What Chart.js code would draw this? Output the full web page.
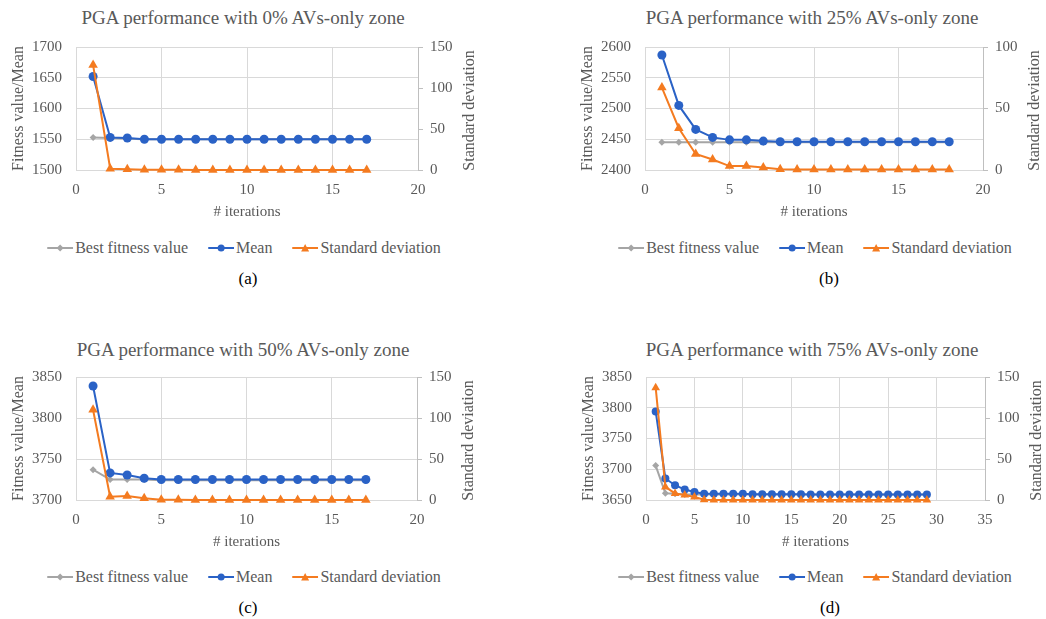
<!DOCTYPE html>
<html>
<head>
<meta charset="utf-8">
<script src="https://cdn.jsdelivr.net/npm/chart.js@4.4.1/dist/chart.umd.min.js"></script>
<style>
  body { margin: 0; background: #fff; }
  #page { position: relative; width: 1046px; height: 619px; overflow: hidden; font-family: "Liberation Serif", "Times New Roman", Times, "DejaVu Serif", serif; color: #595959; }
  canvas { position: absolute; }
  .title { position: absolute; font-size: 19px; white-space: nowrap; transform: translate(-50%, -50%); }
  .caption { position: absolute; font-size: 17px; color: #000; transform: translate(-50%, -50%); }
  .legend { position: absolute; display: flex; align-items: center; font-size: 16px; white-space: nowrap; transform: translate(-50%, -50%); }
  .legend .item { display: flex; align-items: center; margin: 0 10px; }
  .legend svg { margin-right: 2px; }
</style>
</head>
<body>
<div id="page">
  <div class="title" style="left:243px; top:18px">PGA performance with 0% AVs-only zone</div>
  <div class="title" style="left:812px; top:18px">PGA performance with 25% AVs-only zone</div>
  <div class="title" style="left:243px; top:350px">PGA performance with 50% AVs-only zone</div>
  <div class="title" style="left:812px; top:350px">PGA performance with 75% AVs-only zone</div>

  <canvas id="chartA" width="490" height="224" style="left:0px; top:0px"></canvas>
  <canvas id="chartB" width="477" height="224" style="left:569px; top:0px"></canvas>
  <canvas id="chartC" width="490" height="224" style="left:0px; top:330px"></canvas>
  <canvas id="chartD" width="476" height="224" style="left:570px; top:330px"></canvas>

  <div class="legend" style="left:244px; top:248px"></div>
  <div class="legend" style="left:815px; top:248px"></div>
  <div class="legend" style="left:244px; top:577px"></div>
  <div class="legend" style="left:815px; top:577px"></div>

  <div class="caption" style="left:248px; top:279px">(a)</div>
  <div class="caption" style="left:829px; top:279px">(b)</div>
  <div class="caption" style="left:248px; top:608px">(c)</div>
  <div class="caption" style="left:830px; top:608px">(d)</div>
</div>
<script>
// series labels
const seriesNames = ["Best fitness value", "Mean", "Standard deviation"];

// (a) 0% AVs-only zone
const iterA = [1, 2, 3, 4, 5, 6, 7, 8, 9, 10, 11, 12, 13, 14, 15, 16, 17];
const bestA = [1553, 1552, 1551, 1550, 1550, 1550, 1550, 1550, 1550, 1550, 1550, 1550, 1550, 1550, 1550, 1550, 1550];
const meanA = [1652, 1553, 1552, 1550, 1550, 1550, 1550, 1550, 1550, 1550, 1550, 1550, 1550, 1550, 1550, 1550, 1550];
const stdA = [128, 1.5, 0.8, 0.4, 0.3, 0.2, 0.1, 0, 0, 0, 0, 0, 0, 0, 0, 0, 0];

// (b) 25% AVs-only zone
const iterB = [1, 2, 3, 4, 5, 6, 7, 8, 9, 10, 11, 12, 13, 14, 15, 16, 17, 18];
const bestB = [2445, 2445, 2445, 2445, 2445, 2445, 2445, 2445, 2445, 2445, 2445, 2445, 2445, 2445, 2445, 2445, 2445, 2445];
const meanB = [2587, 2505, 2466, 2453, 2449, 2449, 2447, 2446, 2446, 2446, 2446, 2446, 2446, 2446, 2446, 2446, 2446, 2446];
const stdB = [67, 34, 13, 8.5, 3.2, 3.2, 2, 0.6, 0.5, 0.5, 0.5, 0.5, 0.5, 0.5, 0.5, 0.5, 0.5, 0.5];

// (c) 50% AVs-only zone
const iterC = [1, 2, 3, 4, 5, 6, 7, 8, 9, 10, 11, 12, 13, 14, 15, 16, 17];
const bestC = [3737, 3725, 3725, 3725, 3724, 3724, 3724, 3724, 3724, 3724, 3724, 3724, 3724, 3724, 3724, 3724, 3724];
const meanC = [3839, 3733, 3730.5, 3726.5, 3725, 3725, 3725, 3725, 3725, 3725, 3725, 3725, 3725, 3725, 3725, 3725, 3725];
const stdC = [110, 4, 5, 2, 0.3, 0.2, 0.1, 0, 0, 0, 0, 0, 0, 0, 0, 0, 0];

// (d) 75% AVs-only zone
const iterD = [1, 2, 3, 4, 5, 6, 7, 8, 9, 10, 11, 12, 13, 14, 15, 16, 17, 18, 19, 20, 21, 22, 23, 24, 25, 26, 27, 28, 29];
const bestD = [3706, 3661, 3660, 3659, 3659, 3659, 3659, 3659, 3659, 3659, 3659, 3659, 3659, 3659, 3659, 3659, 3659, 3659, 3659, 3659, 3659, 3659, 3659, 3659, 3659, 3659, 3659, 3659, 3659];
const meanD = [3794, 3685, 3674, 3667, 3663, 3660, 3660, 3660, 3660, 3660, 3659.5, 3659.5, 3659.5, 3659.5, 3659.5, 3659.5, 3659, 3659, 3659, 3659, 3659, 3659, 3659, 3659, 3659, 3659, 3659, 3659, 3659];
const stdD = [137, 16, 8, 6, 3.7, 0.3, 0, 0, 0, 0, 0, 0, 0, 0, 0, 0, 0, 0, 0, 0, 0, 0, 0, 0, 0, 0, 0, 0, 0];

const GRAY = "#A5A5A5";
const BLUE = "#2A62C6";
const ORANGE = "#F47B20";
const TEXT = "#595959";
const FONT = "'Liberation Serif', 'Times New Roman', Times, 'DejaVu Serif', serif";

Chart.defaults.font.family = FONT;
Chart.defaults.color = TEXT;

// Excel draws the secondary axis title bottom-to-top, same as the primary one
const rightTitle = {
  id: "rightTitle",
  afterDraw(chart) {
    const { ctx, chartArea } = chart;
    ctx.save();
    ctx.translate(chartArea.right + 52, (chartArea.top + chartArea.bottom) / 2 + 2);
    ctx.rotate(-Math.PI / 2);
    ctx.font = "16px " + FONT;
    ctx.fillStyle = TEXT;
    ctx.textAlign = "center";
    ctx.textBaseline = "middle";
    ctx.fillText("Standard deviation", 0, 0);
    ctx.restore();
  }
};

function pts(iters, vals) {
  return iters.map((x, i) => ({ x: x, y: vals[i] }));
}

const plain = v => String(v);

function makeChart(id, iters, best, mean, std, cfg) {
  const canvas = document.getElementById(id);
  const rightW = canvas.width - cfg.plotRight;
  return new Chart(canvas.getContext("2d"), {
    type: "line",
    data: {
      datasets: [
        {
          label: seriesNames[0], data: pts(iters, best), yAxisID: "y",
          borderColor: GRAY, backgroundColor: GRAY, borderWidth: 2,
          pointStyle: "rectRot", pointRadius: 3.5, pointBorderWidth: 0, order: 2
        },
        {
          label: seriesNames[1], data: pts(iters, mean), yAxisID: "y",
          borderColor: BLUE, backgroundColor: BLUE, borderWidth: 2,
          pointStyle: "circle", pointRadius: cfg.r, pointBorderWidth: 0, order: 1
        },
        {
          label: seriesNames[2], data: pts(iters, std), yAxisID: "y2",
          borderColor: ORANGE, backgroundColor: ORANGE, borderWidth: 2,
          pointStyle: "triangle", pointRadius: cfg.r + 1, pointBorderWidth: 0, order: 0
        }
      ]
    },
    options: {
      responsive: false,
      animation: false,
      devicePixelRatio: 1,
      clip: false,
      layout: { padding: { top: 47, left: 0, right: 0, bottom: 0 } },
      plugins: { legend: { display: false }, tooltip: { enabled: false }, title: { display: false } },
      scales: {
        x: {
          type: "linear", min: 0, max: cfg.xMax,
          ticks: { stepSize: 5, padding: 11, font: { size: 15 }, color: TEXT, callback: plain },
          grid: { color: "#D9D9D9", drawTicks: false },
          border: { color: "#D9D9D9" },
          title: { display: true, text: "# iterations", font: { size: 15 }, color: TEXT, padding: { top: 0, bottom: 3 } },
          afterFit(s) { s.height = 54; }
        },
        y: {
          position: "left", min: cfg.yMin, max: cfg.yMax,
          ticks: { stepSize: 50, padding: 14, font: { size: 15 }, color: TEXT, callback: plain },
          grid: { color: "#D9D9D9", drawTicks: false },
          border: { color: "#D9D9D9" },
          title: { display: true, text: "Fitness value/Mean", font: { size: 16 }, color: TEXT, padding: { top: 9, bottom: 0 } },
          afterFit(s) { s.width = 76; }
        },
        y2: {
          position: "right", min: 0, max: cfg.y2Max,
          ticks: { stepSize: 50, padding: 7, font: { size: 15 }, color: TEXT, callback: plain },
          grid: { drawOnChartArea: false, drawTicks: true, tickLength: 5, color: "#BFBFBF" },
          border: { color: "#BFBFBF" },
          afterFit(s) { s.width = rightW; }
        }
      }
    },
    plugins: [rightTitle]
  });
}

makeChart("chartA", iterA, bestA, meanA, stdA, { plotRight: 418, xMax: 20, yMin: 1500, yMax: 1700, y2Max: 150, r: 4.5 });
makeChart("chartB", iterB, bestB, meanB, stdB, { plotRight: 414, xMax: 20, yMin: 2400, yMax: 2600, y2Max: 100, r: 4.5 });
makeChart("chartC", iterC, bestC, meanC, stdC, { plotRight: 417, xMax: 20, yMin: 3700, yMax: 3850, y2Max: 150, r: 4.5 });
makeChart("chartD", iterD, bestD, meanD, stdD, { plotRight: 415, xMax: 35, yMin: 3650, yMax: 3850, y2Max: 150, r: 4 });

// legends: line with marker, like the Excel legend keys
const markers = [
  { color: GRAY, shape: '<polygon points="13,1.5 16.5,5 13,8.5 9.5,5" />' },
  { color: BLUE, shape: '<circle cx="13" cy="5" r="3.5" />' },
  { color: ORANGE, shape: '<polygon points="13,1 17,8.5 9,8.5" />' }
];
document.querySelectorAll(".legend").forEach(el => {
  el.innerHTML = seriesNames.map((name, i) => `
    <span class="item">
      <svg width="26" height="10"><line x1="0" y1="5" x2="26" y2="5" stroke="${markers[i].color}" stroke-width="2"/>
      <g fill="${markers[i].color}">${markers[i].shape}</g></svg>${name}
    </span>`).join("");
});
</script>
</body>
</html>
